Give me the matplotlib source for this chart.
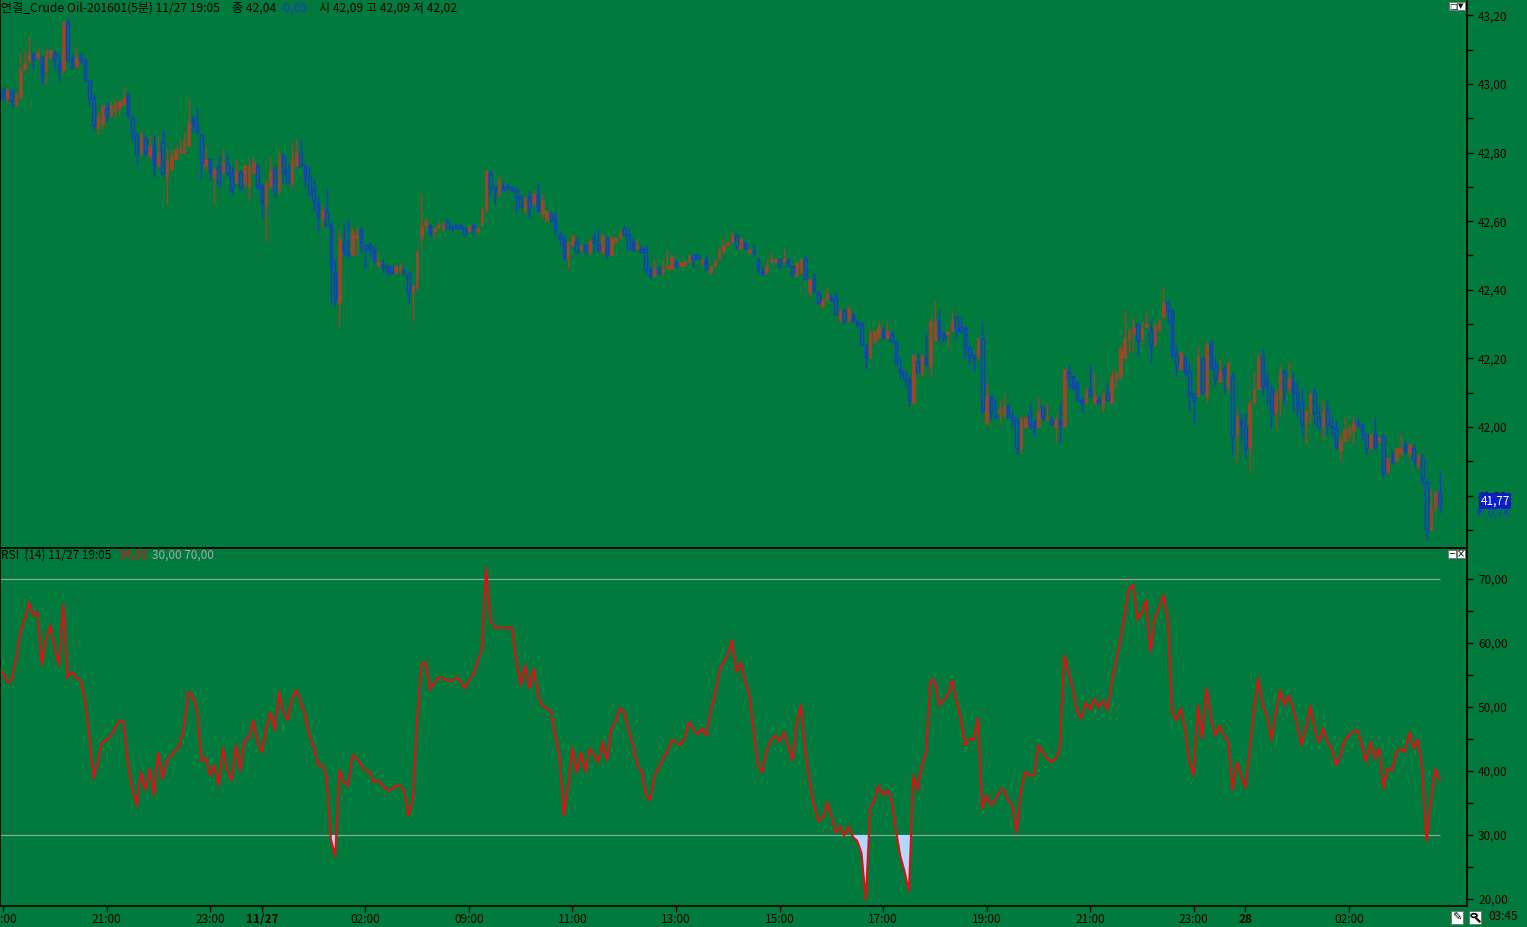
import numpy as np
import matplotlib
matplotlib.use('Agg')
import matplotlib.pyplot as plt
from matplotlib.ticker import MultipleLocator, FuncFormatter
from matplotlib.patches import Rectangle, Circle
from matplotlib.lines import Line2D

plt.rcParams['font.family'] = ['Noto Sans CJK KR', 'DejaVu Sans']
plt.rcParams['font.size'] = 8

W, H = 1527, 927
BG = '#007a3d'
UP = '#9b4628'
DN = '#1838d0'
RSI_C = '#e01010'

# 5분봉 시가/고가/저가/종가 (11/26 19:00 ~ 11/28 03:45)
opens = [
    42.98, 42.96, 42.98, 42.94, 42.96, 43.04, 43.07, 43.09, 43.08, 43.08,
    43.04, 43.08, 43.09, 43.06, 43.04, 43.18, 43.07, 43.05, 43.08, 43.07,
    43.01, 42.96, 42.87, 42.88, 42.93, 42.91, 42.92, 42.93, 42.94, 42.97,
    42.90, 42.85, 42.80, 42.84, 42.79, 42.82, 42.76, 42.83, 42.73, 42.75,
    42.78, 42.80, 42.80, 42.82, 42.90, 42.88, 42.85, 42.76, 42.78, 42.73,
    42.76, 42.74, 42.77, 42.74, 42.71, 42.74, 42.71, 42.70, 42.74, 42.76,
    42.70, 42.65, 42.70, 42.75, 42.69, 42.79, 42.75, 42.71, 42.76, 42.80,
    42.76, 42.73, 42.69, 42.65, 42.61, 42.63, 42.59, 42.45, 42.36, 42.54,
    42.51, 42.50, 42.55, 42.58, 42.53, 42.53, 42.52, 42.47, 42.47, 42.47,
    42.47, 42.45, 42.46, 42.46, 42.45, 42.39, 42.41, 42.55, 42.59, 42.59,
    42.57, 42.58, 42.58, 42.60, 42.58, 42.59, 42.59, 42.58, 42.57, 42.59,
    42.57, 42.59, 42.63, 42.74, 42.70, 42.68, 42.70, 42.70, 42.70, 42.69,
    42.67, 42.63, 42.67, 42.65, 42.68, 42.62, 42.60, 42.62, 42.61, 42.56,
    42.55, 42.49, 42.53, 42.54, 42.52, 42.53, 42.51, 42.55, 42.53, 42.51,
    42.55, 42.50, 42.54, 42.55, 42.58, 42.56, 42.54, 42.52, 42.52, 42.52,
    42.46, 42.44, 42.46, 42.45, 42.46, 42.46, 42.48, 42.47, 42.47, 42.48,
    42.50, 42.50, 42.48, 42.49, 42.45, 42.47, 42.49, 42.51, 42.53, 42.54,
    42.56, 42.52, 42.54, 42.51, 42.51, 42.49, 42.45, 42.45, 42.48, 42.48,
    42.49, 42.48, 42.49, 42.47, 42.44, 42.45, 42.49, 42.39, 42.43, 42.39,
    42.35, 42.37, 42.37, 42.38, 42.31, 42.34, 42.31, 42.33, 42.31, 42.30,
    42.24, 42.20, 42.25, 42.26, 42.28, 42.26, 42.27, 42.25, 42.17, 42.16,
    42.14, 42.07, 42.19, 42.15, 42.20, 42.18, 42.25, 42.31, 42.27, 42.27,
    42.28, 42.32, 42.29, 42.29, 42.23, 42.21, 42.20, 42.26, 42.01, 42.09,
    42.03, 42.04, 42.03, 42.06, 42.03, 42.02, 41.94, 42.00, 42.04, 42.02,
    42.00, 42.06, 42.02, 42.02, 42.00, 42.02, 42.00, 42.16, 42.15, 42.13,
    42.08, 42.07, 42.11, 42.07, 42.08, 42.06, 42.10, 42.07, 42.14, 42.15,
    42.20, 42.26, 42.27, 42.30, 42.26, 42.29, 42.28, 42.24, 42.28, 42.32,
    42.36, 42.34, 42.21, 42.17, 42.20, 42.16, 42.10, 42.09, 42.20, 42.09,
    42.25, 42.18, 42.13, 42.17, 42.12, 42.15, 41.98, 42.02, 42.00, 41.94,
    42.07, 42.11, 42.20, 42.13, 42.11, 42.04, 42.08, 42.16, 42.11, 42.13,
    42.10, 42.07, 42.01, 42.04, 42.10, 42.03, 42.00, 42.05, 42.00, 42.00,
    41.93, 41.96, 41.98, 41.99, 42.01, 42.01, 41.98, 41.94, 41.98, 41.96,
    41.97, 41.87, 41.90, 41.90, 41.92, 41.95, 41.92, 41.94, 41.89, 41.91,
    41.84, 41.70, 41.77, 41.81,
]
highs = [
    42.99, 42.99, 42.99, 42.97, 43.09, 43.10, 43.14, 43.09, 43.11, 43.08,
    43.10, 43.10, 43.10, 43.09, 43.18, 43.19, 43.09, 43.11, 43.09, 43.08,
    43.01, 42.97, 42.92, 42.94, 42.95, 42.95, 42.95, 42.95, 42.99, 42.97,
    42.91, 42.86, 42.86, 42.85, 42.85, 42.85, 42.85, 42.87, 42.81, 42.81,
    42.82, 42.84, 42.86, 42.96, 42.91, 42.93, 42.85, 42.82, 42.78, 42.76,
    42.79, 42.81, 42.80, 42.76, 42.78, 42.75, 42.77, 42.78, 42.79, 42.77,
    42.71, 42.72, 42.79, 42.76, 42.81, 42.80, 42.77, 42.83, 42.84, 42.84,
    42.77, 42.76, 42.72, 42.67, 42.65, 42.70, 42.60, 42.49, 42.58, 42.59,
    42.61, 42.58, 42.59, 42.58, 42.53, 42.54, 42.53, 42.51, 42.49, 42.47,
    42.47, 42.47, 42.48, 42.46, 42.45, 42.41, 42.52, 42.68, 42.61, 42.59,
    42.58, 42.60, 42.60, 42.61, 42.59, 42.59, 42.59, 42.58, 42.59, 42.59,
    42.58, 42.64, 42.75, 42.75, 42.70, 42.73, 42.71, 42.71, 42.70, 42.70,
    42.68, 42.67, 42.69, 42.69, 42.71, 42.68, 42.63, 42.63, 42.63, 42.57,
    42.56, 42.54, 42.56, 42.55, 42.53, 42.53, 42.55, 42.57, 42.58, 42.56,
    42.55, 42.56, 42.55, 42.57, 42.59, 42.58, 42.55, 42.55, 42.53, 42.53,
    42.47, 42.49, 42.47, 42.49, 42.52, 42.50, 42.49, 42.48, 42.49, 42.50,
    42.50, 42.50, 42.49, 42.50, 42.47, 42.49, 42.52, 42.55, 42.54, 42.57,
    42.56, 42.55, 42.54, 42.52, 42.53, 42.49, 42.47, 42.49, 42.51, 42.49,
    42.49, 42.52, 42.49, 42.47, 42.48, 42.49, 42.50, 42.43, 42.45, 42.40,
    42.38, 42.41, 42.39, 42.39, 42.34, 42.34, 42.35, 42.33, 42.31, 42.31,
    42.24, 42.29, 42.28, 42.31, 42.29, 42.31, 42.28, 42.25, 42.20, 42.16,
    42.15, 42.21, 42.22, 42.21, 42.27, 42.32, 42.37, 42.34, 42.28, 42.28,
    42.34, 42.32, 42.32, 42.29, 42.24, 42.21, 42.26, 42.31, 42.13, 42.09,
    42.08, 42.08, 42.10, 42.07, 42.05, 42.03, 42.03, 42.03, 42.07, 42.02,
    42.09, 42.06, 42.07, 42.03, 42.04, 42.07, 42.17, 42.18, 42.15, 42.13,
    42.09, 42.12, 42.18, 42.16, 42.09, 42.10, 42.13, 42.17, 42.16, 42.24,
    42.34, 42.29, 42.32, 42.30, 42.31, 42.34, 42.31, 42.30, 42.32, 42.41,
    42.37, 42.34, 42.24, 42.22, 42.21, 42.19, 42.10, 42.24, 42.20, 42.25,
    42.25, 42.20, 42.20, 42.18, 42.19, 42.16, 42.05, 42.04, 42.04, 42.08,
    42.16, 42.22, 42.23, 42.16, 42.12, 42.11, 42.18, 42.17, 42.19, 42.16,
    42.13, 42.11, 42.05, 42.10, 42.12, 42.06, 42.08, 42.08, 42.03, 42.02,
    41.98, 42.03, 42.01, 42.03, 42.03, 42.01, 41.98, 41.98, 42.03, 41.97,
    41.98, 41.91, 41.93, 41.94, 41.98, 41.96, 41.95, 41.95, 41.92, 41.92,
    41.85, 41.82, 41.81, 41.87,
]
lows = [
    42.95, 42.94, 42.93, 42.94, 42.96, 43.04, 43.06, 43.04, 43.07, 43.00,
    43.00, 43.07, 43.04, 43.01, 43.03, 43.07, 43.04, 43.05, 43.06, 43.01,
    42.94, 42.87, 42.85, 42.87, 42.89, 42.90, 42.90, 42.91, 42.94, 42.90,
    42.83, 42.76, 42.79, 42.79, 42.78, 42.73, 42.76, 42.73, 42.65, 42.75,
    42.78, 42.80, 42.80, 42.82, 42.86, 42.86, 42.72, 42.75, 42.72, 42.65,
    42.70, 42.74, 42.73, 42.68, 42.71, 42.69, 42.70, 42.66, 42.74, 42.69,
    42.61, 42.54, 42.70, 42.67, 42.68, 42.71, 42.71, 42.70, 42.76, 42.76,
    42.70, 42.68, 42.63, 42.57, 42.58, 42.59, 42.36, 42.35, 42.29, 42.50,
    42.49, 42.50, 42.50, 42.51, 42.46, 42.49, 42.48, 42.47, 42.45, 42.45,
    42.45, 42.45, 42.45, 42.45, 42.36, 42.31, 42.40, 42.52, 42.57, 42.56,
    42.55, 42.58, 42.57, 42.58, 42.57, 42.58, 42.58, 42.56, 42.57, 42.56,
    42.56, 42.59, 42.63, 42.67, 42.65, 42.67, 42.69, 42.69, 42.69, 42.62,
    42.64, 42.62, 42.61, 42.65, 42.63, 42.61, 42.60, 42.60, 42.56, 42.53,
    42.49, 42.46, 42.53, 42.51, 42.51, 42.51, 42.50, 42.51, 42.51, 42.50,
    42.49, 42.50, 42.54, 42.55, 42.56, 42.52, 42.51, 42.52, 42.51, 42.45,
    42.43, 42.44, 42.45, 42.44, 42.46, 42.46, 42.47, 42.47, 42.47, 42.48,
    42.47, 42.49, 42.47, 42.46, 42.45, 42.47, 42.49, 42.51, 42.53, 42.54,
    42.52, 42.52, 42.52, 42.50, 42.50, 42.45, 42.44, 42.45, 42.48, 42.48,
    42.47, 42.48, 42.47, 42.44, 42.44, 42.45, 42.43, 42.38, 42.39, 42.36,
    42.35, 42.37, 42.37, 42.33, 42.31, 42.30, 42.31, 42.31, 42.29, 42.24,
    42.17, 42.20, 42.24, 42.26, 42.26, 42.26, 42.25, 42.18, 42.14, 42.12,
    42.06, 42.07, 42.16, 42.15, 42.18, 42.15, 42.25, 42.25, 42.25, 42.23,
    42.28, 42.26, 42.28, 42.20, 42.18, 42.16, 42.20, 42.04, 42.01, 42.02,
    42.03, 42.01, 42.03, 42.03, 42.00, 41.92, 41.92, 42.00, 41.99, 41.97,
    42.00, 42.02, 42.02, 42.01, 41.96, 41.95, 42.00, 42.11, 42.11, 42.08,
    42.04, 42.07, 42.09, 42.07, 42.07, 42.04, 42.08, 42.07, 42.11, 42.14,
    42.20, 42.22, 42.22, 42.21, 42.24, 42.29, 42.19, 42.24, 42.28, 42.32,
    42.30, 42.20, 42.15, 42.17, 42.15, 42.05, 42.01, 42.09, 42.10, 42.07,
    42.17, 42.12, 42.13, 42.10, 42.10, 41.92, 41.90, 41.96, 41.91, 41.87,
    42.07, 42.11, 42.09, 42.06, 42.00, 41.99, 42.03, 42.06, 42.10, 42.05,
    42.03, 41.97, 41.95, 42.01, 42.01, 41.99, 41.96, 41.98, 41.97, 41.94,
    41.90, 41.96, 41.96, 41.95, 42.00, 41.96, 41.92, 41.94, 41.94, 41.95,
    41.85, 41.87, 41.89, 41.90, 41.92, 41.92, 41.91, 41.88, 41.88, 41.83,
    41.67, 41.70, 41.75, 41.75,
]
closes = [
    42.96, 42.98, 42.95, 42.97, 43.04, 43.06, 43.09, 43.07, 43.09, 43.02,
    43.10, 43.10, 43.07, 43.04, 43.18, 43.07, 43.05, 43.08, 43.07, 43.01,
    42.96, 42.88, 42.91, 42.94, 42.91, 42.94, 42.95, 42.95, 42.96, 42.91,
    42.86, 42.80, 42.85, 42.80, 42.82, 42.76, 42.80, 42.74, 42.78, 42.79,
    42.81, 42.81, 42.83, 42.89, 42.88, 42.86, 42.77, 42.78, 42.74, 42.75,
    42.71, 42.77, 42.74, 42.69, 42.75, 42.70, 42.76, 42.76, 42.77, 42.70,
    42.65, 42.71, 42.75, 42.69, 42.79, 42.74, 42.71, 42.78, 42.80, 42.76,
    42.73, 42.68, 42.66, 42.61, 42.63, 42.59, 42.46, 42.37, 42.55, 42.51,
    42.50, 42.57, 42.56, 42.54, 42.52, 42.52, 42.48, 42.48, 42.47, 42.45,
    42.45, 42.47, 42.47, 42.45, 42.39, 42.41, 42.51, 42.59, 42.60, 42.56,
    42.58, 42.59, 42.59, 42.58, 42.58, 42.58, 42.58, 42.56, 42.59, 42.58,
    42.58, 42.63, 42.75, 42.70, 42.69, 42.72, 42.69, 42.70, 42.69, 42.67,
    42.64, 42.67, 42.64, 42.68, 42.63, 42.66, 42.63, 42.60, 42.57, 42.55,
    42.49, 42.54, 42.56, 42.51, 42.53, 42.51, 42.54, 42.54, 42.52, 42.56,
    42.50, 42.55, 42.55, 42.57, 42.56, 42.52, 42.52, 42.53, 42.51, 42.46,
    42.44, 42.46, 42.45, 42.46, 42.47, 42.50, 42.47, 42.48, 42.48, 42.50,
    42.49, 42.49, 42.49, 42.46, 42.47, 42.49, 42.52, 42.53, 42.54, 42.56,
    42.53, 42.55, 42.52, 42.52, 42.51, 42.46, 42.45, 42.47, 42.49, 42.49,
    42.47, 42.49, 42.47, 42.45, 42.48, 42.49, 42.43, 42.43, 42.40, 42.36,
    42.37, 42.39, 42.37, 42.33, 42.34, 42.31, 42.35, 42.31, 42.30, 42.24,
    42.20, 42.27, 42.28, 42.29, 42.26, 42.28, 42.25, 42.18, 42.16, 42.14,
    42.08, 42.21, 42.16, 42.21, 42.18, 42.31, 42.31, 42.27, 42.26, 42.28,
    42.31, 42.28, 42.28, 42.23, 42.21, 42.20, 42.26, 42.05, 42.09, 42.04,
    42.03, 42.05, 42.06, 42.03, 42.02, 41.94, 42.03, 42.03, 42.01, 42.00,
    42.05, 42.03, 42.03, 42.01, 42.02, 42.01, 42.17, 42.14, 42.11, 42.08,
    42.07, 42.10, 42.09, 42.09, 42.07, 42.10, 42.08, 42.15, 42.16, 42.23,
    42.26, 42.28, 42.29, 42.25, 42.29, 42.30, 42.24, 42.30, 42.31, 42.36,
    42.34, 42.21, 42.18, 42.22, 42.16, 42.10, 42.08, 42.21, 42.10, 42.24,
    42.17, 42.14, 42.16, 42.15, 42.19, 41.97, 42.03, 42.01, 41.94, 42.07,
    42.11, 42.20, 42.12, 42.12, 42.04, 42.10, 42.16, 42.11, 42.14, 42.10,
    42.06, 42.01, 42.05, 42.10, 42.04, 42.00, 42.05, 42.01, 42.00, 41.94,
    41.96, 41.99, 42.00, 42.01, 42.01, 41.98, 41.94, 41.98, 41.94, 41.97,
    41.87, 41.91, 41.90, 41.94, 41.94, 41.93, 41.95, 41.90, 41.92, 41.85,
    41.70, 41.77, 41.81, 41.77,
]

# RSI(14)
rsi_vals = [
    55.4, 53.8, 54.1, 57.3, 61.6, 63.5, 66.3, 64.3, 64.8, 56.5,
    60.7, 62.7, 58.8, 56.5, 65.9, 54.5, 55.4, 54.5, 54.1, 51.0,
    45.5, 38.8, 41.6, 44.5, 44.8, 45.5, 46.6, 47.9, 47.6, 40.9,
    37.0, 34.6, 39.8, 37.0, 40.4, 36.2, 42.9, 38.8, 41.6, 42.4,
    43.2, 44.0, 47.1, 52.3, 51.6, 49.5, 41.6, 42.0, 39.3, 40.9,
    37.7, 43.5, 40.1, 38.5, 44.0, 40.1, 44.8, 45.1, 47.9, 44.5,
    42.9, 46.6, 49.1, 46.3, 52.3, 49.1, 47.9, 51.3, 52.6, 50.7,
    48.7, 45.5, 44.0, 40.9, 40.9, 39.3, 29.4, 26.7, 40.1, 38.2,
    37.7, 42.4, 42.0, 40.9, 40.1, 39.8, 38.2, 38.5, 37.7, 37.0,
    37.0, 37.7, 37.7, 37.0, 33.0, 35.4, 47.9, 56.5, 57.0, 52.6,
    53.8, 54.5, 54.5, 54.1, 54.1, 54.5, 54.1, 52.9, 54.1, 54.9,
    57.0, 58.8, 71.6, 63.5, 62.3, 62.4, 62.3, 62.3, 62.3, 57.3,
    53.4, 56.5, 52.9, 56.0, 51.8, 50.2, 49.8, 49.1, 45.5, 42.4,
    33.0, 37.7, 43.5, 39.8, 42.9, 39.8, 43.5, 42.4, 41.3, 44.5,
    41.6, 46.6, 47.6, 49.8, 49.1, 46.3, 44.0, 40.9, 40.1, 36.2,
    35.4, 39.3, 40.4, 42.0, 42.9, 44.8, 44.5, 44.0, 45.1, 47.6,
    46.6, 45.7, 46.6, 45.5, 49.1, 51.8, 55.4, 57.0, 58.0, 60.4,
    55.4, 57.0, 54.1, 51.8, 46.3, 40.9, 39.8, 43.2, 44.8, 45.5,
    44.5, 46.0, 44.0, 41.6, 47.6, 50.2, 42.9, 38.2, 34.6, 32.2,
    32.6, 35.1, 33.0, 30.4, 31.3, 29.9, 31.3, 29.7, 29.1, 27.2,
    19.9, 34.1, 35.4, 37.7, 36.2, 37.0, 35.4, 30.7, 26.7, 24.3,
    21.2, 39.3, 37.0, 40.9, 42.9, 54.1, 54.1, 50.2, 51.0, 51.8,
    54.1, 51.0, 48.2, 44.0, 45.1, 44.8, 48.2, 34.1, 36.2, 34.66,
    35.4, 37.0, 37.0, 35.4, 34.5, 30.4, 37.0, 39.8, 39.3, 39.3,
    44.0, 42.9, 42.0, 41.3, 42.0, 43.5, 58.0, 55.4, 52.6, 49.1,
    48.2, 50.7, 49.5, 51.3, 49.8, 51.0, 49.5, 53.8, 57.0, 60.4,
    64.3, 68.5, 69.0, 63.5, 64.8, 66.6, 58.5, 63.8, 65.4, 67.4,
    63.8, 49.1, 47.9, 49.8, 46.6, 41.3, 39.3, 50.2, 45.1, 52.9,
    48.2, 45.5, 47.1, 45.5, 44.8, 37.0, 41.3, 39.3, 37.3, 43.5,
    49.5, 54.5, 50.2, 48.7, 44.8, 48.7, 52.6, 50.2, 51.8, 49.8,
    47.1, 44.0, 46.6, 50.2, 46.6, 44.5, 46.6, 44.5, 43.5, 40.9,
    42.4, 44.8, 45.5, 46.3, 46.3, 44.0, 41.3, 44.5, 42.0, 43.5,
    37.3, 40.4, 40.1, 42.9, 43.5, 42.9, 46.0, 43.5, 44.8, 40.1,
    29.1, 35.4, 40.4, 38.5,
]

tick_pos = [0, 24, 48, 60, 84, 108, 132, 156, 180, 204, 228, 252, 276, 288, 312]
tick_lab = ['19:00', '21:00', '23:00', '11/27', '02:00', '09:00', '11:00', '13:00',
            '15:00', '17:00', '19:00', '21:00', '23:00', '28', '02:00']
bold_lab = ['11/27', '28']

o = np.array(opens)
h = np.array(highs)
l = np.array(lows)
c = np.array(closes)
rsi = np.array(rsi_vals)
x = np.arange(len(c))

fig = plt.figure(figsize=(W / 100, H / 100), dpi=100, facecolor=BG)
ax1 = fig.add_axes([0, (H - 548) / H, 1467 / W, 548 / H])
ax2 = fig.add_axes([0, (H - 906) / H, 1467 / W, (906 - 548) / H])

xlim = ((0 - 3) / 4.314, (1467 - 3) / 4.314)
comma = FuncFormatter(lambda v, p: f"{v:.2f}".replace('.', ','))

for ax in (ax1, ax2):
    ax.set_facecolor(BG)
    ax.set_xlim(*xlim)
    ax.yaxis.tick_right()
    ax.yaxis.set_major_formatter(comma)
    ax.tick_params(axis='y', which='both', direction='out', length=4, width=1,
                   colors='black', labelsize=8.5, pad=4)
    for s in ax.spines.values():
        s.set_color('black')
        s.set_linewidth(1.2)

# 캔들
up = c > o
dn = ~up
ax1.vlines(x[up], l[up], h[up], color=UP, lw=1.0, zorder=2)
ax1.vlines(x[dn], l[dn], h[dn], color=DN, lw=1.0, zorder=2)
body = np.maximum(np.abs(c - o), 0.003)
bot = np.minimum(o, c)
ax1.bar(x[up], body[up], bottom=bot[up], width=0.6, color=UP, edgecolor=UP, lw=0.6, zorder=3)
ax1.bar(x[dn], body[dn], bottom=bot[dn], width=0.6, facecolor=BG, edgecolor=DN, lw=1.0, zorder=3)

ax1.set_ylim(41.647, 43.245)
ax1.yaxis.set_major_locator(MultipleLocator(0.2))
ax1.yaxis.set_minor_locator(MultipleLocator(0.1))
ax1.tick_params(axis='x', bottom=False, labelbottom=False)
ax1.spines['top'].set_visible(False)

# RSI
ax2.set_ylim(18.92, 74.76)
ax2.yaxis.set_major_locator(MultipleLocator(10))
ax2.yaxis.set_minor_locator(MultipleLocator(5))
ax2.hlines([70, 30], xlim[0], x[-1], color='#a0a0a0', lw=0.9, zorder=1)
ax2.fill_between(x, rsi, 30, where=rsi < 30, interpolate=True, color='#b6d6ff', lw=0, zorder=2)
ax2.plot(x, rsi, color=RSI_C, lw=1.5, zorder=3)

ax2.set_xticks(tick_pos)
ax2.set_xticklabels(tick_lab)
ax2.tick_params(axis='x', direction='out', length=4, width=1, colors='black',
                labelsize=8.5, pad=1)
for t in ax2.get_xticklabels():
    if t.get_text() in bold_lab:
        t.set_fontweight('bold')


def fy(py):
    return 1 - py / H


# 상단 제목
fig.text(1 / W, fy(8), '연결_Crude Oil-201601(5분) 11/27 19:05', fontsize=8.7, va='center')
fig.text(232 / W, fy(8), '종 42,04', fontsize=8.7, va='center')
fig.text(279 / W, fy(8), '-0,05', fontsize=8.7, va='center', color=DN)
fig.text(319 / W, fy(8), '시 42,09 고 42,09 저 42,02', fontsize=8.7, va='center')

fig.text(1 / W, fy(555), 'RSI  (14) 11/27 19:05', fontsize=8.5, va='center')
fig.text(119 / W, fy(555), '34,66', fontsize=8.5, va='center', color=RSI_C)
fig.text(152 / W, fy(555), '30,00 70,00', fontsize=8.5, va='center', color='#a8a8a8')

fig.text(1503 / W, fy(917), '03:45', fontsize=8.5, ha='center', va='center')

# 현재가 표시
fig.text(1495 / W, fy(501), '41,77', fontsize=8.5, ha='center', va='center', color='white',
         bbox=dict(boxstyle='square,pad=0.12', fc='#0a1ec8', ec='none'))
fig.text(1479 / W, fy(513), '▼', fontsize=6, ha='center', va='center', color=DN,
         family=['DejaVu Sans'])
fig.text(1487 / W, fy(513), '0,74', fontsize=8.5, va='center', color=DN)


def box(px, py, pw, ph):
    fig.add_artist(Rectangle((px / W, fy(py + ph)), pw / W, ph / H, transform=fig.transFigure,
                             fc='white', ec='#707070', lw=0.6, zorder=5))


def glyph(px, py, s, size=6):
    fig.text(px / W, fy(py), s, fontsize=size, ha='center', va='center',
             family=['DejaVu Sans'], zorder=6)


box(1449, 2, 8, 8)
box(1457, 2, 8, 8)
glyph(1453, 6, '□', 6)
glyph(1461, 6, '▼', 5)
box(1448, 550, 8, 8)
box(1457, 550, 8, 8)
glyph(1452, 554, '−', 6)
glyph(1461, 554, '×', 7)
box(1451, 911, 12, 13)
box(1469, 911, 12, 13)
glyph(1457, 917.5, '✎', 8)
fig.add_artist(Circle((1474 / W, fy(915.5)), 3 / W, transform=fig.transFigure,
                      fc='none', ec='black', lw=1.2, zorder=6))
fig.add_artist(Line2D([1476 / W, 1479.5 / W], [fy(918), fy(921.5)], transform=fig.transFigure,
                      color='black', lw=1.6, zorder=6))

fig.savefig('out.png', dpi=100, facecolor=BG)
